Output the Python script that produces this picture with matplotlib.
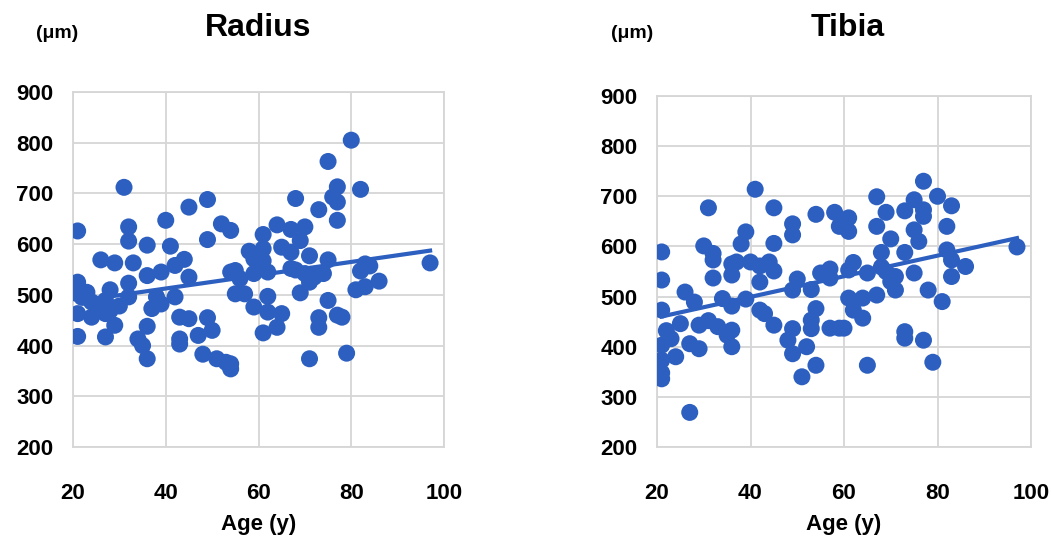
import numpy as np
import matplotlib
matplotlib.use("Agg")
from matplotlib import pyplot as plt

# --------------------------------------------
# データ
# --------------------------------------------

# Radius
radius_age = [31, 21, 32, 32, 36, 40, 45, 49, 52, 54, 49, 41, 26, 29, 33, 44, 42, 36, 39, 45,
              21, 54, 32, 21, 23, 28, 24, 27, 32, 38, 42, 21, 24, 27, 29, 37, 39, 36, 43, 45,
              49, 47, 50, 21, 27, 34, 35, 36, 43, 43, 48, 51, 53, 54, 54, 28, 22, 25, 30,
              80, 75, 82, 77, 76, 77, 68, 73, 77, 64, 67, 70, 61, 69, 65, 58, 61, 67, 71,
              75, 59, 61, 55, 67, 83, 84, 97, 82, 86, 83, 81, 56, 59, 62, 70, 72, 74, 68,
              55, 57, 62, 69, 71, 59, 62, 75, 65, 64, 61, 73, 73, 77, 78, 71, 79]
radius_val = [712, 626, 634, 606, 598, 647, 673, 688, 640, 627, 609, 596, 569, 563, 563, 570, 558, 538, 545, 535,
              525, 545, 523, 502, 505, 510, 486, 489, 496, 496, 496, 463, 456, 463, 440, 473, 482, 438, 456, 453,
              455, 420, 430, 418, 417, 413, 400, 374, 413, 403, 383, 374, 367, 354, 364, 469, 495, 480, 478,
              805, 763, 708, 713, 693, 683, 690, 668, 647, 638, 629, 634, 619, 607, 594, 586, 591, 584, 577,
              569, 571, 567, 548, 552, 561, 557, 563, 547, 527, 516, 510, 532, 542, 545, 542, 535, 542, 549,
              502, 502, 497, 504, 525, 476, 466, 489, 463, 436, 425, 455, 436, 460, 456, 374, 385]

# Tibia
tibia_age = [41, 31, 45, 49, 49, 54, 39, 38, 45, 21, 30, 32, 32, 36, 37, 40, 42, 44, 45, 42,
             36, 32, 21, 50, 26, 28, 34, 39, 36, 21, 42, 43, 49, 53, 54, 25, 29, 31, 33, 35,
             36, 45, 49, 53, 53, 22, 23, 21, 27, 29, 36, 24, 48, 49, 52, 54, 51, 21, 21, 21, 27,
             77, 80, 83, 67, 75, 73, 77, 77, 69, 58, 61, 59, 61, 67, 75, 76, 82, 70, 68, 73,
             82, 97, 62, 61, 65, 68, 69, 71, 70, 71, 75, 83, 83, 86, 57, 67, 61, 64, 62, 64,
             78, 81, 57, 59, 60, 73, 73, 77, 79, 65, 55, 57]
tibia_val = [714, 677, 677, 645, 623, 664, 629, 605, 606, 589, 601, 586, 573, 565, 569, 569, 561, 569, 551, 529,
             543, 537, 533, 535, 509, 489, 496, 495, 481, 473, 473, 466, 513, 514, 476, 446, 443, 452, 440, 423,
             433, 443, 436, 453, 436, 432, 416, 403, 406, 396, 400, 380, 413, 386, 400, 363, 340, 373, 348, 336, 269,
             730, 700, 681, 699, 693, 671, 673, 660, 668, 668, 657, 640, 630, 640, 633, 610, 640, 615, 588, 588,
             593, 599, 568, 553, 547, 559, 550, 540, 530, 513, 547, 573, 540, 560, 537, 503, 497, 497, 473, 457,
             513, 490, 437, 437, 437, 430, 417, 413, 369, 363, 547, 555]

x_ticks = [20, 40, 60, 80, 100]
y_ticks = [200, 300, 400, 500, 600, 700, 800, 900]

# --------------------------------------------
# 描画
# --------------------------------------------

plt.rcParams['font.family'] = ['Liberation Sans', 'DejaVu Sans']
dot_color = "#2C5FBF"
grid_color = "#D6D6D6"

fig = plt.figure(figsize=(10.52, 5.42), dpi=100)


def draw_panel(rect, ages, vals, title, title_x, unit_x):
    ax = fig.add_axes(rect)
    ax.scatter(ages, vals, s=150, color=dot_color, edgecolors="none", zorder=3)
    # 近似直線
    a, b = np.polyfit(ages, vals, 1)
    xs = np.array([min(ages), max(ages)])
    ax.plot(xs, a * xs + b, color=dot_color, lw=3, zorder=4)

    ax.set_xlim(20, 100)
    ax.set_ylim(200, 900)
    ax.set_xticks(x_ticks)
    ax.set_yticks(y_ticks)
    ax.grid(True, color=grid_color, lw=1.3, zorder=0)
    for sp in ax.spines.values():
        sp.set_color(grid_color)
        sp.set_linewidth(1.3)
    ax.tick_params(length=0, labelsize=16, pad=14)
    ax.tick_params(axis="x", pad=26)
    for lab in ax.get_xticklabels() + ax.get_yticklabels():
        lab.set_fontweight("bold")
    ax.set_xlabel("Age (y)", fontsize=16, fontweight="bold", labelpad=7)
    fig.text(title_x, 1 - 28 / 542, title, fontsize=23, fontweight="bold",
             ha="center", va="center")
    fig.text(unit_x, 1 - 33 / 542, "(\u03bcm)", fontsize=14, fontweight="bold",
             ha="center", va="center")
    return ax


draw_panel([73 / 1052, 1 - 447 / 542, 371 / 1052, 355 / 542],
           radius_age, radius_val, "Radius", 258 / 1052, 57 / 1052)
draw_panel([657 / 1052, 1 - 447 / 542, 374 / 1052, 351 / 542],
           tibia_age, tibia_val, "Tibia", 848 / 1052, 632 / 1052)

fig.savefig("out.png", dpi=100)
